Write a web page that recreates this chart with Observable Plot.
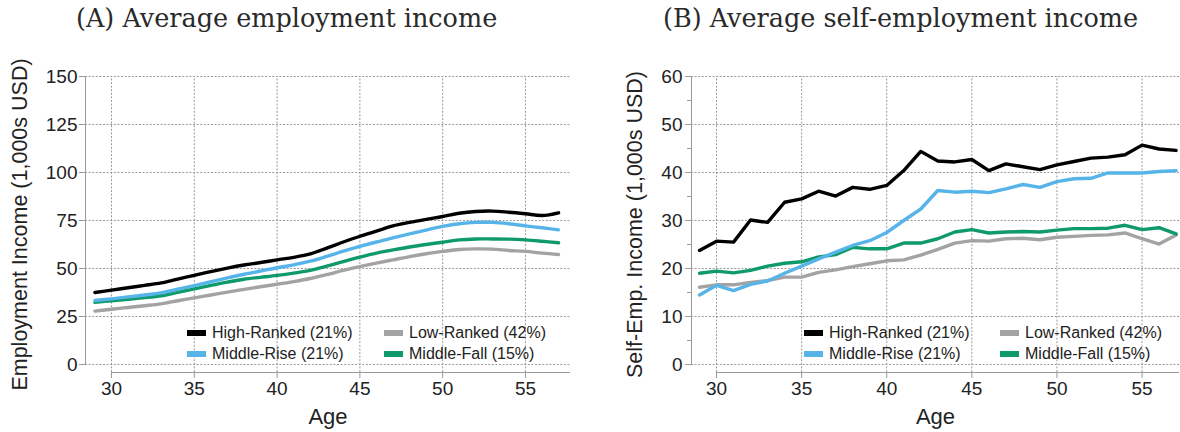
<!DOCTYPE html>
<html>
<head>
<meta charset="utf-8">
<script src="https://cdn.jsdelivr.net/npm/d3@7"></script>
<script src="https://cdn.jsdelivr.net/npm/@observablehq/plot@0.6"></script>
<style>
  body { margin: 0; background: #fff; }
  #wrap { position: relative; width: 1180px; height: 432px; overflow: hidden; font-family: "Liberation Sans", Arial, sans-serif; }
  .panel { position: absolute; top: 0; width: 590px; height: 432px; }
  .title { position: absolute; top: 0; font-family: "DejaVu Serif", serif; font-size: 25.5px; line-height: 36px; color: #2a2a2a; white-space: nowrap; }
  .plot { position: absolute; top: 42px; left: 0; }
  .item { position: absolute; white-space: nowrap; font-size: 16px; line-height: 20px; color: #222; }
  .sw { display: inline-block; width: 19px; height: 6px; vertical-align: middle; margin-right: 6px; position: relative; top: -1px; }
</style>
</head>
<body>
<div id="wrap">
  <div class="panel" id="panelA" style="left:0">
    <div class="title" style="left:76px">(A) Average employment income</div>
    <div class="plot" id="plotA"></div>
  </div>
  <div class="panel" id="panelB" style="left:590px">
    <div class="title" style="left:73px">(B) Average self-employment income</div>
    <div class="plot" id="plotB"></div>
  </div>
</div>
<script>
// ages on the x axis
const ages = [29, 30, 31, 32, 33, 34, 35, 36, 37, 38, 39, 40, 41, 42, 43, 44, 45, 46, 47, 48, 49, 50, 51, 52, 53, 54, 55, 56, 57]

const groups = ["High-Ranked (21%)", "Low-Ranked (42%)", "Middle-Rise (21%)", "Middle-Fall (15%)"]
const colors = ["#000000", "#a3a3a3", "#56b4e9", "#0f9a6c"]

// (A) employment income, 1,000s USD
const empHigh = [37.5, 38.7, 40.0, 41.2, 42.5, 44.5, 46.4, 48.4, 50.2, 51.8, 53.1, 54.5, 55.8, 57.6, 60.6, 63.8, 66.8, 69.5, 72.2, 74.0, 75.6, 77.1, 78.8, 79.7, 79.9, 79.3, 78.5, 77.6, 79.0]
const empLow  = [27.8, 28.8, 29.7, 30.6, 31.6, 33.2, 34.7, 36.2, 37.7, 39.1, 40.5, 41.8, 43.2, 44.8, 46.8, 49.0, 51.0, 52.8, 54.5, 56.2, 57.7, 58.9, 59.9, 60.2, 60.1, 59.4, 58.9, 58.0, 57.3]
const empRise = [33.3, 34.2, 35.2, 36.2, 37.3, 39.2, 41.1, 43.1, 45.1, 47.0, 48.7, 50.4, 51.9, 53.8, 56.3, 59.0, 61.5, 63.8, 65.9, 68.0, 70.0, 71.9, 73.3, 74.0, 74.0, 73.3, 72.2, 71.2, 70.1]
const empFall = [32.4, 33.2, 34.0, 34.8, 35.8, 37.6, 39.4, 41.2, 42.9, 44.4, 45.4, 46.4, 47.6, 49.0, 51.2, 53.6, 55.9, 58.0, 59.7, 61.2, 62.5, 63.7, 64.9, 65.4, 65.4, 65.3, 64.9, 64.2, 63.4]

// (B) self-employment income, 1,000s USD
const selfHigh = [23.75, 25.7, 25.5, 30.1, 29.6, 33.8, 34.5, 36.1, 35.1, 36.9, 36.5, 37.3, 40.4, 44.4, 42.4, 42.2, 42.7, 40.4, 41.8, 41.2, 40.6, 41.6, 42.3, 43.0, 43.2, 43.7, 45.7, 44.9, 44.6]
const selfLow  = [16.1, 16.6, 16.6, 17.1, 17.5, 18.2, 18.2, 19.2, 19.7, 20.4, 21.0, 21.6, 21.8, 22.8, 24.0, 25.3, 25.8, 25.7, 26.2, 26.3, 26.0, 26.5, 26.7, 26.9, 27.0, 27.4, 26.2, 25.1, 27.0]
const selfRise = [14.5, 16.5, 15.4, 16.7, 17.4, 19.0, 20.5, 22.0, 23.4, 24.8, 25.8, 27.5, 30.0, 32.4, 36.25, 35.9, 36.1, 35.8, 36.6, 37.5, 36.9, 38.1, 38.7, 38.8, 39.9, 39.9, 39.9, 40.2, 40.4]
const selfFall = [19.0, 19.45, 19.1, 19.6, 20.5, 21.1, 21.4, 22.4, 22.9, 24.4, 24.1, 24.1, 25.3, 25.3, 26.2, 27.6, 28.1, 27.4, 27.6, 27.7, 27.6, 28.0, 28.3, 28.3, 28.4, 29.0, 28.1, 28.5, 27.2]

const xTicks = [30, 35, 40, 45, 50, 55]
const yTicksA = [0, 25, 50, 75, 100, 125, 150]
const yTicksB = [0, 10, 20, 30, 40, 50, 60]
const yMinorB = [5, 15, 25, 35, 45, 55]

function toRows(series) {
  let rows = []
  series.forEach((vals, i) => {
    vals.forEach((v, j) => rows.push({group: groups[i], age: ages[j], value: v}))
  })
  return rows
}

const grid = {stroke: "#9a9a9a", strokeWidth: 1, strokeDasharray: "2,1.6"}
const axisGray = "#9a9a9a"

function panel(cfg) {
  const rows = toRows(cfg.series)
  const yMin = cfg.yDomain[0], yMax = cfg.yTicks[cfg.yTicks.length - 1]
  let marks = [
    Plot.ruleY(cfg.yTicks, {x1: cfg.xDomain[0], x2: cfg.xDomain[1], ...grid}),
    Plot.ruleX(xTicks, {y1: yMin, y2: yMax, ...grid}),
    Plot.ruleX([cfg.xDomain[0]], {y1: 0, y2: yMax, stroke: axisGray}),
    Plot.ruleY([yMin], {x1: xTicks[0], x2: cfg.xDomain[1], stroke: axisGray}),
    Plot.axisY({ticks: cfg.yTicks, tickSize: 6, tickPadding: cfg.padY, stroke: axisGray, fill: "#222", label: null, fontSize: 19}),
    Plot.axisX({ticks: xTicks, tickSize: 6, tickPadding: 3, stroke: axisGray, fill: "#222", label: null, fontSize: 19}),
    Plot.text(["Age"], {frameAnchor: "bottom", lineAnchor: "middle", dy: 44, fontSize: 22, fill: "#222"}),
    Plot.text([cfg.yLabel], {frameAnchor: "left", textAnchor: "middle", lineAnchor: "middle", dx: cfg.labelDx, rotate: -90, fontSize: 21.5, fill: "#222"})
  ]
  if (cfg.yMinor) {
    marks.push(Plot.axisY({ticks: cfg.yMinor, tickSize: 4, tickFormat: () => "", stroke: axisGray, label: null}))
  }
  // draw order: low, fall, rise, high
  ;[1, 3, 2, 0].forEach(i => {
    marks.push(Plot.line(rows.filter(d => d.group === groups[i]), {
      x: "age", y: "value", stroke: colors[i], strokeWidth: 3.4, curve: cfg.curve
    }))
  })
  return Plot.plot({
    width: 590,
    height: 390,
    marginLeft: cfg.marginLeft,
    marginRight: cfg.marginRight,
    marginTop: 34,
    marginBottom: 60,
    x: {domain: cfg.xDomain, label: null},
    y: {domain: cfg.yDomain, label: null},
    style: {fontFamily: "Liberation Sans, Arial, sans-serif", fontSize: "19px", color: "#222", background: "transparent", overflow: "visible"},
    marks: marks
  })
}

const plotA = panel({
  series: [empHigh, empLow, empRise, empFall],
  xDomain: [28.43, 57.72],
  yDomain: [-4.17, 150],
  yTicks: yTicksA,
  marginLeft: 85,
  marginRight: 20,
  padY: 2,
  labelDx: -65,
  yLabel: "Employment Income (1,000s USD)",
  curve: "catmull-rom"
})

const plotB = panel({
  series: [selfHigh, selfLow, selfRise, selfFall],
  xDomain: [28.53, 57.2],
  yDomain: [-1.667, 60],
  yTicks: yTicksB,
  yMinor: yMinorB,
  marginLeft: 101,
  marginRight: 1,
  padY: 3,
  labelDx: -56,
  yLabel: "Self-Emp. Income (1,000s USD)",
  curve: "linear"
})

d3.select('#plotA').append(() => plotA)
d3.select('#plotB').append(() => plotB)

// legends inside the plot area
function legend(panelId, pos) {
  const p = d3.select(panelId)
  groups.forEach((g, i) => {
    const item = p.append('div').attr('class', 'item')
      .style('left', pos[i][0] + 'px').style('top', pos[i][1] + 'px')
    item.append('span').attr('class', 'sw').style('background', colors[i])
    item.append('span').text(g)
  })
}
legend('#panelA', [[187, 323], [384, 323], [187, 344], [384, 344]])
legend('#panelB', [[214, 323], [410, 323], [214, 344], [410, 344]])
</script>
</body>
</html>
